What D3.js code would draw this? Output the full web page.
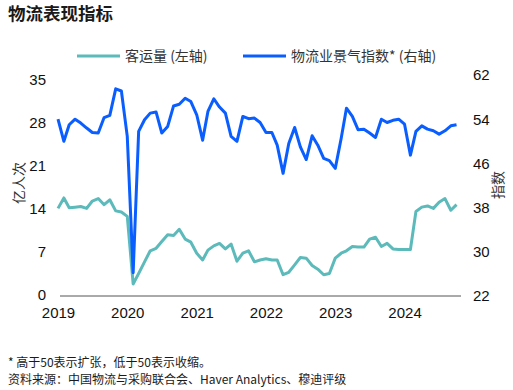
<!DOCTYPE html>
<html>
<head>
<meta charset="utf-8">
<script src="https://cdn.jsdelivr.net/npm/d3@7"></script>
<style>
  body { margin: 0; background: #fff; }
  svg text { font-family: "Liberation Sans", Arial, sans-serif; }
  .cjk { font-family: "Noto Sans CJK SC", sans-serif; }
</style>
</head>
<body>
<div id="chart"></div>
<script>
// monthly, Jan 2019 - Oct 2024
var passengers = [14.1,15.8,14.2,14.3,14.4,14.1,15.3,15.7,14.7,15.5,13.7,13.5,
  12.8,1.8,3.5,5.4,7.2,7.6,8.7,9.8,9.7,10.7,9.1,8.6,
  6.8,5.7,7.3,8.0,8.4,7.5,8.3,5.5,6.8,7.2,5.4,5.7,
  5.9,5.7,5.7,3.3,3.7,4.9,6.1,6.0,4.8,4.2,3.3,3.5,
  6.0,6.8,7.2,7.9,7.8,7.8,9.1,9.4,7.9,8.4,7.5,7.4,
  7.4,7.4,13.6,14.3,14.5,14.1,15.1,15.7,13.8,14.7];
var lpi = [54.0,50.0,53.0,54.0,53.3,52.4,51.6,51.5,54.3,54.7,59.5,59.1,
  50.9,26.2,51.8,53.9,55.1,55.3,51.5,52.7,56.4,56.7,57.8,57.2,
  54.8,50.2,55.4,57.7,56.2,55.1,50.9,50.0,54.5,54.1,54.2,53.4,
  51.6,51.6,49.3,44.2,49.6,52.5,49.0,46.7,51.0,49.3,46.9,46.5,
  45.1,50.5,56.0,54.5,52.1,52.2,51.5,50.7,54.0,53.4,53.8,54.0,
  53.1,47.5,51.8,52.8,52.2,51.9,51.3,51.9,52.8,53.0];
var leftTicks = [0,7,14,21,28,35];
var rightTicks = [22,30,38,46,54,62];
var years = [2019,2020,2021,2022,2023,2024];
var legendNames = ["客运量 (左轴)", "物流业景气指数* (右轴)"];
var colors = ["#5dbabb", "#0a5eff"];

var W = 513, H = 390;
var svg = d3.select("#chart").append("svg").attr("width", W).attr("height", H);

var months = passengers.map(function(d, i){ return new Date(2019, i, 1); });

var x = d3.scaleTime().domain([new Date(2019,0,1), new Date(2025,0,1)]).range([58, 474]);
var yL = d3.scaleLinear().domain([0,35]).range([295, 80]);
var yR = d3.scaleLinear().domain([22,62]).range([296, 75]);

// title
svg.append("text").attr("class","cjk").attr("x",8).attr("y",20)
  .attr("font-size",17.5).attr("font-weight","bold").attr("fill","#1a1a1a")
  .text("物流表现指标");

// legend
var legX = [77, 243];
legendNames.forEach(function(n, i){
  svg.append("line").attr("x1",legX[i]).attr("x2",legX[i]+43)
    .attr("y1",56).attr("y2",56).attr("stroke",colors[i]).attr("stroke-width",3);
  svg.append("text").attr("class","cjk").attr("x",legX[i]+48).attr("y",61)
    .attr("font-size",14).attr("fill","#333").text(n);
});

// axes
var axL = svg.append("g").attr("transform","translate(50,0)")
  .call(d3.axisLeft(yL).tickValues(leftTicks).tickSize(0).tickPadding(4));
var axR = svg.append("g").attr("transform","translate(469,0)")
  .call(d3.axisRight(yR).tickValues(rightTicks).tickSize(0).tickPadding(4));
var axB = svg.append("g").attr("transform","translate(0,304)")
  .call(d3.axisBottom(x).tickValues(years.map(function(y){ return new Date(y,0,1); }))
    .tickFormat(d3.timeFormat("%Y")).tickSize(0).tickPadding(3));
[axL, axR, axB].forEach(function(a){
  a.select(".domain").remove();
  a.selectAll("text").attr("font-size",15).attr("fill","#111")
    .style("font-family","'Liberation Sans', Arial, sans-serif");
});

svg.append("line").attr("x1",60).attr("x2",461)
  .attr("y1",yL(0)+1).attr("y2",yL(0)+1).attr("stroke","#555").attr("stroke-width",1);

// axis titles
svg.append("text").attr("class","cjk")
  .attr("transform","translate(24,183) rotate(-90)")
  .attr("text-anchor","middle").attr("font-size",14).attr("fill","#333").text("亿人次");
svg.append("text").attr("class","cjk")
  .attr("transform","translate(503,185) rotate(-90)")
  .attr("text-anchor","middle").attr("font-size",14).attr("fill","#333").text("指数");

// lines
var lineL = d3.line().x(function(d,i){ return x(months[i]); }).y(function(d){ return yL(d); });
var lineR = d3.line().x(function(d,i){ return x(months[i]); }).y(function(d){ return yR(d); });

svg.append("path").datum(passengers).attr("d", lineL)
  .attr("fill","none").attr("stroke",colors[0]).attr("stroke-width",3)
  .attr("stroke-linejoin","round");
svg.append("path").datum(lpi).attr("d", lineR)
  .attr("fill","none").attr("stroke",colors[1]).attr("stroke-width",3)
  .attr("stroke-linejoin","round");

// notes
svg.append("text").attr("class","cjk").attr("x",8).attr("y",367)
  .attr("font-size",12).attr("fill","#1a1a1a").text("* 高于50表示扩张，低于50表示收缩。");
svg.append("text").attr("class","cjk").attr("x",8).attr("y",383.5)
  .attr("font-size",12).attr("fill","#1a1a1a").text("资料来源：中国物流与采购联合会、Haver Analytics、穆迪评级");
</script>
</body>
</html>
